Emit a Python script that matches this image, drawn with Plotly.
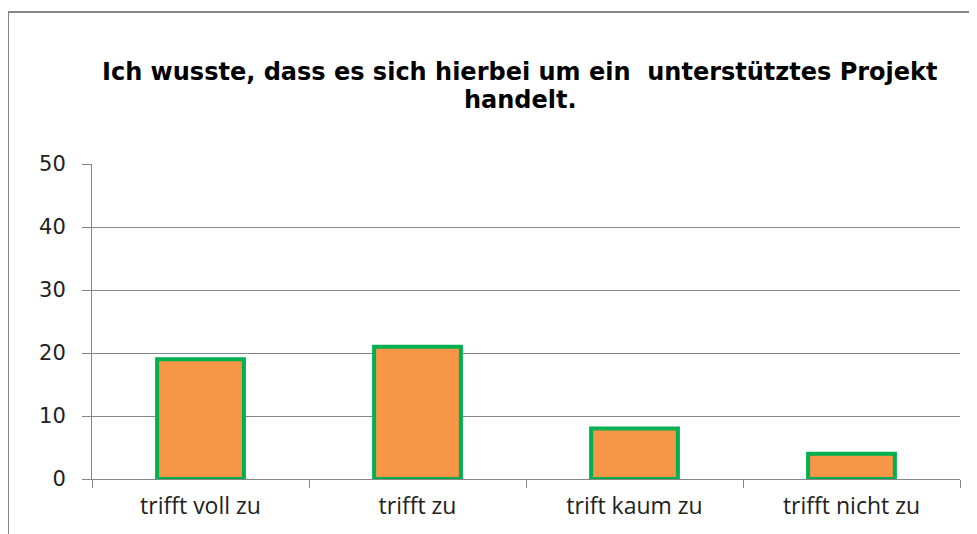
import plotly.graph_objects as go

categories = ["trifft voll zu", "trifft zu", "trift kaum zu", "trifft nicht zu"]
values = [19, 21, 8, 4]
y_ticks = [0, 10, 20, 30, 40, 50]
title_lines = ["Ich wusste, dass es sich hierbei um ein  unterstütztes Projekt", "handelt."]

# page body has an 8px margin; size the figure so its screen position matches
OFF = 8
W, H = 977 - OFF, 534 - OFF
ml, mr, mt, mb = 92 - OFF, 17, 164 - OFF, 55

fig = go.Figure(go.Bar(
    x=categories, y=values,
    marker=dict(color="#F79646", line=dict(color="#00B050", width=4)),
    width=0.4,
))

fig.update_layout(
    width=W, height=H,
    margin=dict(l=ml, r=mr, t=mt, b=mb, pad=0),
    paper_bgcolor="white", plot_bgcolor="white",
    showlegend=False,
    font=dict(family="DejaVu Sans", color="#000000"),
)
fig.update_xaxes(
    showline=True, linecolor="#868686", linewidth=1,
    ticks="outside", tickson="boundaries", ticklen=8, tickcolor="#868686",
    tickfont=dict(family="Open Sans", size=23, color="#222222"),
    ticklabelstandoff=6,
    showgrid=False,
)
fig.update_yaxes(
    range=[0, 50], tickvals=y_ticks,
    showline=True, linecolor="#868686", linewidth=1,
    ticks="outside", ticklen=9, tickcolor="#868686",
    tickfont=dict(family="DejaVu Sans", size=21, color="#222222"),
    ticklabelstandoff=12,
    showgrid=True, gridcolor="#868686", gridwidth=1,
    zeroline=False,
)

pw = W - ml - mr
ph = H - mt - mb
def px2x(px):
    return (px - OFF - ml) / pw
def py2y(py):
    return (H - mb - (py - OFF)) / ph

for txt, ypix in zip(title_lines, [72, 100]):
    fig.add_annotation(text="<b>" + txt + "</b>", xref="paper", yref="paper",
                       x=px2x(520), y=py2y(ypix), showarrow=False,
                       font=dict(family="DejaVu Sans", size=24, color="#000000"),
                       xanchor="center", yanchor="middle")

fig.add_shape(type="rect", xref="paper", yref="paper",
              x0=px2x(8), x1=px2x(1100), y0=py2y(700), y1=py2y(12),
              line=dict(color="#868686", width=2), layer="below")

fig.write_html("out.html")
